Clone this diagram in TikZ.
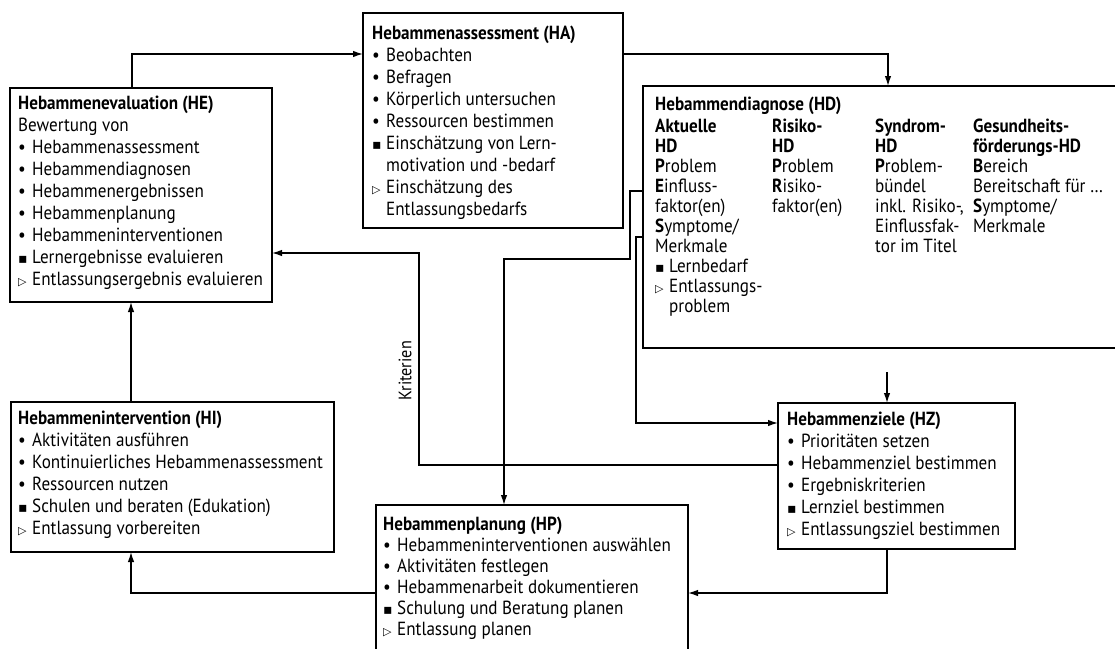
\documentclass[tikz,border=0pt]{standalone}
\usepackage{fontspec}
\setmainfont{PT Sans}[FakeStretch=0.9]
\newfontfamily\symfont{DejaVu Sans}
\usetikzlibrary{arrows.meta}

% Aufzaehlungszeichen
\newcommand\bul{\makebox[14pt][l]{\textbullet}}
\newcommand\viereck{\makebox[14pt][l]{\symfont\fontsize{14}{14}\selectfont ▪}}
\newcommand\dreieck{\makebox[14pt][l]{\symfont\fontsize{11}{11}\selectfont ▷}}
\newcommand\einz{\hspace*{14pt}}

\tikzset{
	kasten/.style={draw, line width=1.4pt, inner sep=0pt, outer sep=0pt},
	inhalt/.style={anchor=north west, inner sep=0pt, align=left, font=\fontsize{19}{22}\selectfont},
	pfeil/.style={line width=1.3pt, -{Latex[length=10pt,width=6.5pt]}}
}

\begin{document}
\begin{tikzpicture}[x=1pt, y=-1pt]
		\useasboundingbox ( 0, 0 ) rectangle ( 1115, 648 );
		\clip ( 0, 0 ) rectangle ( 1115, 648 );

		% Kaesten
		\node [kasten, anchor=north west, minimum width=262pt, minimum height=214pt] (HE) at ( 10, 88 ) {};
		\node [kasten, anchor=north west, minimum width=260pt, minimum height=215pt] (HA) at ( 363, 13 ) {};
		\node [kasten, anchor=north west, minimum width=480pt, minimum height=262pt] (HD) at ( 643, 86 ) {};
		\node [kasten, anchor=north west, minimum width=237pt, minimum height=146pt] (HZ) at ( 778, 403 ) {};
		\node [kasten, anchor=north west, minimum width=312pt, minimum height=160pt] (HP) at ( 376, 505 ) {};
		\node [kasten, anchor=north west, minimum width=323pt, minimum height=150pt] (HI) at ( 11, 402 ) {};

		% Hebammenevaluation (HE)
		\node [inhalt] (HEtxt) at ([shift={(8pt,-8pt)}]HE.north west) {\textbf{Hebammenevaluation (HE)}\\ Bewertung von\\ \bul Hebammenassessment\\ \bul Hebammendiagnosen\\ \bul Hebammenergebnissen\\ \bul Hebammenplanung\\ \bul Hebammeninterventionen\\ \viereck Lernergebnisse evaluieren\\ \dreieck Entlassungsergebnis evaluieren};

		% Hebammenassessment (HA)
		\node [inhalt] (HAtxt) at ([shift={(9pt,-13pt)}]HA.north west) {\textbf{Hebammenassessment (HA)}\\ \bul Beobachten\\ \bul Befragen\\ \bul Körperlich untersuchen\\ \bul Ressourcen bestimmen\\ \viereck Einschätzung von Lern-\\ \einz motivation und -bedarf\\ \dreieck Einschätzung des\\ \einz Entlassungsbedarfs};

		% Hebammendiagnose (HD)
		\node [inhalt, font=\fontsize{19}{20}\selectfont] (HDtxt) at ([shift={(12pt,-11pt)}]HD.north west) {\textbf{Hebammendiagnose (HD)}\\[3pt]
			\begin{tabular}{@{}p{117pt}@{}p{103pt}@{}p{98pt}@{}l@{}}
				\textbf{Aktuelle} & \textbf{Risiko-} & \textbf{Syndrom-} & \textbf{Gesundheits-} \\
				\textbf{HD} & \textbf{HD} & \textbf{HD} & \textbf{förderungs-HD} \\
				\textbf{P}roblem & \textbf{P}roblem & \textbf{P}roblem- & \textbf{B}ereich \\
				\textbf{E}influss- & \textbf{R}isiko- & bündel & Bereitschaft für … \\
				faktor(en) & faktor(en) & inkl. Risiko-, & \textbf{S}ymptome/ \\
				\textbf{S}ymptome/ & & Einflussfak- & Merkmale \\
				Merkmale & & tor im Titel & \\
				\viereck Lernbedarf & & & \\
				\dreieck Entlassungs- & & & \\
				\einz problem & & &
			\end{tabular}};

		% Hebammenziele (HZ)
		\node [inhalt] (HZtxt) at ([shift={(9pt,-9pt)}]HZ.north west) {\textbf{Hebammenziele (HZ)}\\ \bul Prioritäten setzen\\ \bul Hebammenziel bestimmen\\ \bul Ergebniskriterien\\ \viereck Lernziel bestimmen\\ \dreieck Entlassungsziel bestimmen};

		% Hebammenplanung (HP)
		\node [inhalt, font=\fontsize{19}{21}\selectfont] (HPtxt) at ([shift={(7pt,-12pt)}]HP.north west) {\textbf{Hebammenplanung (HP)}\\ \bul Hebammeninterventionen auswählen\\ \bul Aktivitäten festlegen\\ \bul Hebammenarbeit dokumentieren\\ \viereck Schulung und Beratung planen\\ \dreieck Entlassung planen};

		% Hebammenintervention (HI)
		\node [inhalt] (HItxt) at ([shift={(7pt,-9pt)}]HI.north west) {\textbf{Hebammenintervention (HI)}\\ \bul Aktivitäten ausführen\\ \bul Kontinuierliches Hebammenassessment\\ \bul Ressourcen nutzen\\ \viereck Schulen und beraten (Edukation)\\ \dreieck Entlassung vorbereiten};

		% Verbindungen
		\coordinate (hdhp) at ( 630, 259 );
		\coordinate (hdhz) at ( 636, 423 );
		\coordinate (krit) at ( 419, 253 );
		\coordinate (hzin) at ( 887, 372 );

		\draw [pfeil] ([xshift=122pt]HE.north west) |- ([yshift=-41pt]HA.north west);
		\draw [pfeil] ([yshift=-41pt]HA.north east) -| ([xshift=245pt]HD.north west);
		\draw [pfeil] ([yshift=-105pt]HD.north west) -| (hdhp) -| ([xshift=128pt]HP.north west);
		\draw [pfeil] ([yshift=-151pt]HD.north west) -| (hdhz) -- (hdhz -| HZ.west);
		\draw [pfeil] (hzin) -- (hzin |- HZ.north);
		\draw [pfeil] ([yshift=-62pt]HZ.north west) -| (krit) -- (krit -| HE.east);
		\draw [pfeil] ([xshift=109pt]HZ.south west) |- ([yshift=-88pt]HP.north east);
		\draw [pfeil] ([yshift=-88pt]HP.north west) -| ([xshift=120pt]HI.south west);
		\draw [pfeil] ([xshift=120pt]HI.north west) -- ([xshift=121pt]HE.south west);

		% Beschriftung
		\node [rotate=90, font=\fontsize{18}{20}\selectfont] (kritlabel) at ( 405, 371 ) {Kriterien};
	\end{tikzpicture}
\end{document}
